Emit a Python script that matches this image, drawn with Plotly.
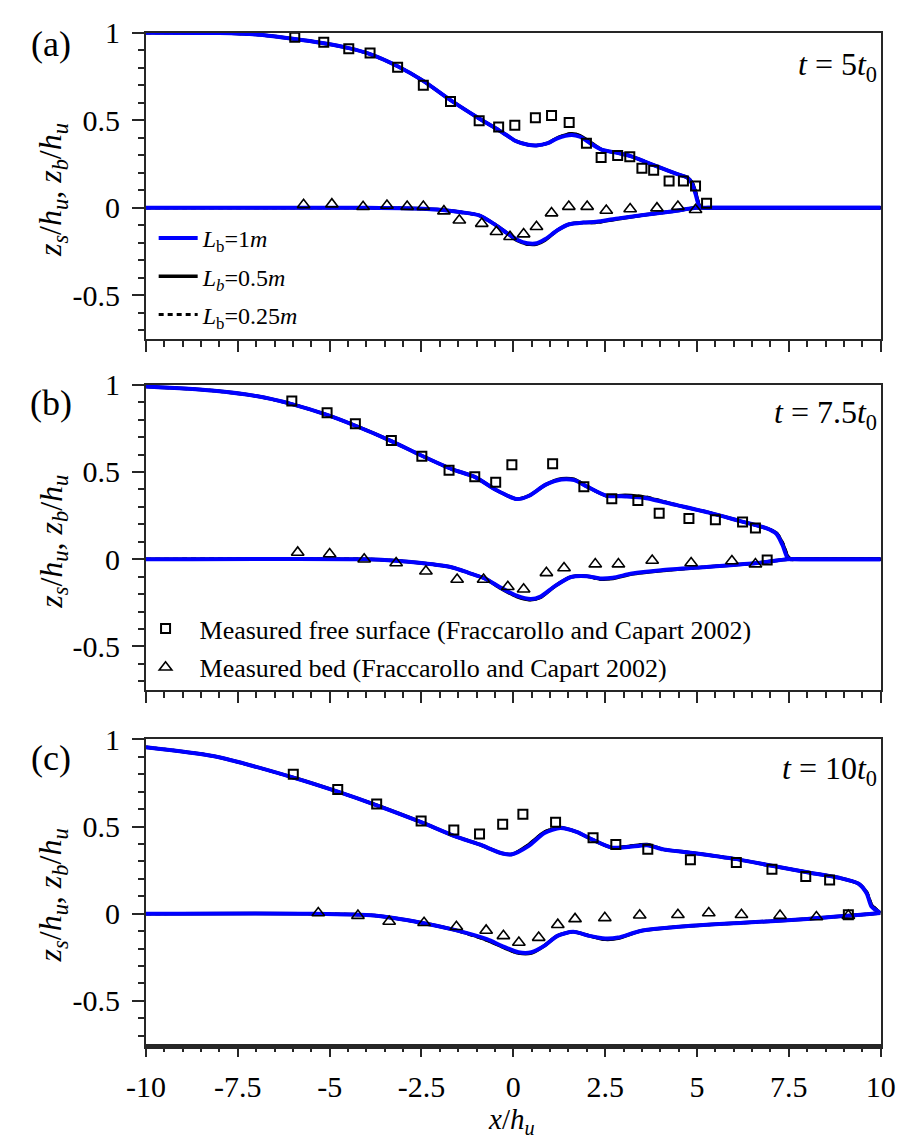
import plotly.graph_objects as go

FONT = "Liberation Serif, Times New Roman, serif"
BLUE = "#0000ff"
AXC = "#262626"

# axis ticks
x_ticks = [-10, -7.5, -5, -2.5, 0, 2.5, 5, 7.5, 10]
x_tick_text = ["-10", "-7.5", "-5", "-2.5", "0", "2.5", "5", "7.5", "10"]
y_ticks = [-0.5, 0, 0.5, 1]
y_tick_text = ["-0.5", "0", "0.5", "1"]

# ---------------- (a) t = 5 t0 ----------------
a_surf_x = [-10, -8, -7, -6, -5.16, -4.48, -3.9, -3.15, -2.45, -1.71, -0.93, -0.4, -0.15, 0.06, 0.4,
            0.63, 0.94, 1.2, 1.59, 1.81, 2.16, 2.42, 2.86, 3.21, 3.56, 4.0, 4.43, 4.74, 4.87, 4.96,
            5.05, 5.12, 5.3, 6.0, 10]
a_surf_1m = [1.0, 0.998, 0.99, 0.966, 0.94, 0.912, 0.878, 0.809, 0.725, 0.615, 0.51, 0.444, 0.41,
             0.382, 0.36, 0.356, 0.369, 0.397, 0.416, 0.406, 0.36, 0.331, 0.313, 0.294, 0.266,
             0.229, 0.195, 0.172, 0.135, 0.079, 0.013, 0.0, 0.0, 0.0, 0.0]
a_surf_05m = [1.0, 0.998, 0.99, 0.966, 0.94, 0.912, 0.878, 0.809, 0.725, 0.615, 0.51, 0.444, 0.41,
              0.382, 0.36, 0.356, 0.369, 0.400, 0.423, 0.413, 0.366, 0.331, 0.313, 0.294, 0.266,
              0.229, 0.195, 0.172, 0.142, 0.090, 0.020, 0.0, 0.0, 0.0, 0.0]
a_surf_025m = [1.0, 0.998, 0.99, 0.966, 0.94, 0.912, 0.878, 0.809, 0.725, 0.615, 0.51, 0.444, 0.41,
               0.382, 0.36, 0.356, 0.369, 0.401, 0.425, 0.411, 0.364, 0.331, 0.313, 0.294, 0.266,
               0.229, 0.195, 0.172, 0.145, 0.095, 0.025, 0.0, 0.0, 0.0, 0.0]
a_bed_x = [-10, -4, -3, -2.45, -1.8, -1.42, -0.93, -0.54, -0.16, 0.12, 0.38, 0.64, 0.86, 1.21, 1.52,
           1.91, 2.26, 2.79, 3.49, 4.36, 4.98, 5.5, 10]
a_bed_1m = [0, 0, -0.002, -0.006, -0.015, -0.025, -0.043, -0.09, -0.146, -0.184, -0.202, -0.202,
            -0.18, -0.127, -0.094, -0.084, -0.080, -0.062, -0.043, -0.019, 0.0, 0.0, 0.0]
a_bed_05m = [0, 0, -0.002, -0.006, -0.015, -0.025, -0.043, -0.09, -0.146, -0.188, -0.207, -0.207,
             -0.185, -0.127, -0.094, -0.084, -0.083, -0.065, -0.043, -0.019, 0.0, 0.0, 0.0]
a_bed_025m = [0, 0, -0.002, -0.006, -0.015, -0.025, -0.043, -0.09, -0.146, -0.184, -0.209, -0.205,
              -0.18, -0.127, -0.094, -0.084, -0.085, -0.064, -0.043, -0.019, 0.0, 0.0, 0.0]
a_fs_x = [-5.95, -5.16, -4.48, -3.90, -3.15, -2.45, -1.71, -0.93, -0.40, 0.04, 0.60, 1.04, 1.52,
          1.99, 2.39, 2.84, 3.17, 3.50, 3.82, 4.24, 4.63, 4.96, 5.26]
a_fs_y = [0.974, 0.946, 0.908, 0.884, 0.803, 0.700, 0.608, 0.498, 0.462, 0.472, 0.515, 0.528, 0.487,
          0.369, 0.288, 0.299, 0.292, 0.226, 0.215, 0.153, 0.153, 0.124, 0.026]
a_mb_x = [-5.71, -4.94, -4.09, -3.44, -2.89, -2.45, -1.89, -1.47, -0.86, -0.46, -0.09, 0.28, 0.63,
          1.04, 1.51, 2.01, 2.53, 3.18, 3.91, 4.48, 4.96]
a_mb_y = [0.017, 0.021, 0.006, 0.013, 0.007, 0.007, -0.019, -0.071, -0.09, -0.137, -0.165, -0.150,
          -0.108, -0.030, 0.007, 0.007, -0.015, -0.007, -0.002, 0.007, -0.011]

# ---------------- (b) t = 7.5 t0 ----------------
b_surf_x = [-10, -8.21, -7, -6.03, -5.07, -4.30, -3.32, -2.49, -1.66, -1.05, -0.48, 0.09, 0.43, 0.87,
            1.31, 1.66, 2.01, 2.53, 3.05, 3.58, 4.45, 5.33, 6.2, 6.9, 7.16, 7.33, 7.46, 7.55, 7.7,
            8.5, 10]
b_surf_1m = [0.99, 0.967, 0.935, 0.889, 0.827, 0.765, 0.677, 0.593, 0.515, 0.472, 0.398, 0.345,
             0.364, 0.426, 0.457, 0.453, 0.416, 0.364, 0.360, 0.351, 0.31, 0.267, 0.217, 0.177,
             0.146, 0.080, 0.01, 0.0, 0.0, 0.0, 0.0]
b_surf_05m = [0.99, 0.967, 0.935, 0.889, 0.827, 0.765, 0.677, 0.593, 0.515, 0.472, 0.398, 0.345,
              0.364, 0.426, 0.461, 0.457, 0.416, 0.364, 0.366, 0.356, 0.31, 0.267, 0.217, 0.177,
              0.150, 0.090, 0.02, 0.0, 0.0, 0.0, 0.0]
b_surf_025m = [0.99, 0.967, 0.935, 0.889, 0.827, 0.765, 0.677, 0.593, 0.515, 0.472, 0.398, 0.345,
               0.364, 0.426, 0.460, 0.458, 0.416, 0.364, 0.364, 0.358, 0.31, 0.267, 0.217, 0.177,
               0.152, 0.095, 0.025, 0.0, 0.0, 0.0, 0.0]
b_bed_x = [-10, -4, -3.2, -2.5, -1.66, -1.22, -0.78, -0.35, 0.09, 0.48, 0.74, 1.14, 1.57, 2.01, 2.36,
           2.71, 3.23, 4.02, 5.33, 6.64, 7.46, 8.0, 10]
b_bed_1m = [0, 0, -0.008, -0.022, -0.047, -0.078, -0.110, -0.162, -0.209, -0.228, -0.214, -0.153,
            -0.102, -0.097, -0.110, -0.106, -0.082, -0.063, -0.043, -0.022, 0.0, 0.0, 0.0]
b_bed_05m = [0, 0, -0.008, -0.022, -0.047, -0.078, -0.110, -0.166, -0.214, -0.232, -0.219, -0.153,
             -0.102, -0.097, -0.114, -0.110, -0.085, -0.066, -0.043, -0.022, 0.0, 0.0, 0.0]
b_bed_025m = [0, 0, -0.008, -0.022, -0.047, -0.078, -0.110, -0.162, -0.212, -0.233, -0.217, -0.153,
              -0.102, -0.097, -0.116, -0.108, -0.082, -0.065, -0.043, -0.022, 0.0, 0.0, 0.0]
b_fs_x = [-6.03, -5.07, -4.30, -3.32, -2.49, -1.75, -1.05, -0.48, -0.04, 1.07, 1.92, 2.68, 3.39,
          3.97, 4.78, 5.50, 6.24, 6.59, 6.91]
b_fs_y = [0.907, 0.840, 0.777, 0.681, 0.590, 0.510, 0.472, 0.441, 0.541, 0.547, 0.416, 0.347, 0.336,
          0.263, 0.233, 0.226, 0.214, 0.179, -0.004]
b_mb_x = [-5.87, -5.00, -4.06, -3.19, -2.38, -1.53, -0.81, -0.15, 0.28, 0.90, 1.38, 2.23, 2.86, 3.78,
          4.84, 5.95, 6.59]
b_mb_y = [0.039, 0.030, 0.0, -0.022, -0.069, -0.116, -0.116, -0.158, -0.172, -0.078, -0.050, -0.028,
          -0.028, -0.007, -0.022, -0.010, -0.028]

# ---------------- (c) t = 10 t0 ----------------
c_surf_x = [-10, -8.14, -5.99, -4.78, -3.72, -2.51, -1.6, -0.92, -0.29, -0.03, 0.41, 0.85, 1.28,
            1.72, 2.15, 2.68, 3.12, 3.64, 4.08, 4.82, 6.08, 7.04, 8.0, 8.87, 9.4, 9.62, 9.75, 9.99]
c_surf_1m = [0.955, 0.903, 0.781, 0.70, 0.622, 0.525, 0.445, 0.397, 0.345, 0.341, 0.388, 0.463,
             0.491, 0.469, 0.425, 0.379, 0.382, 0.393, 0.369, 0.350, 0.313, 0.275, 0.238, 0.206,
             0.172, 0.116, 0.041, 0.004]
c_surf_05m = [0.955, 0.903, 0.781, 0.70, 0.622, 0.525, 0.445, 0.397, 0.345, 0.341, 0.395, 0.468,
              0.495, 0.469, 0.425, 0.379, 0.386, 0.397, 0.369, 0.350, 0.313, 0.275, 0.238, 0.206,
              0.172, 0.120, 0.050, 0.004]
c_surf_025m = [0.955, 0.903, 0.781, 0.70, 0.622, 0.525, 0.445, 0.397, 0.345, 0.341, 0.393, 0.470,
               0.493, 0.469, 0.425, 0.379, 0.387, 0.396, 0.369, 0.350, 0.313, 0.275, 0.238, 0.206,
               0.172, 0.125, 0.055, 0.004]
c_bed_x = [-10, -5.5, -3.78, -2.51, -1.6, -0.72, -0.29, 0.14, 0.49, 0.85, 1.20, 1.63, 2.07, 2.50,
           2.85, 3.46, 4.51, 6.25, 8.0, 9.99]
c_bed_1m = [0, 0, -0.011, -0.052, -0.093, -0.146, -0.187, -0.221, -0.221, -0.183, -0.127, -0.104,
            -0.127, -0.142, -0.137, -0.099, -0.075, -0.052, -0.030, 0.004]
c_bed_05m = [0, 0, -0.011, -0.052, -0.093, -0.151, -0.192, -0.226, -0.226, -0.183, -0.127, -0.104,
             -0.127, -0.147, -0.141, -0.099, -0.075, -0.052, -0.030, 0.004]
c_bed_025m = [0, 0, -0.011, -0.052, -0.093, -0.153, -0.190, -0.227, -0.224, -0.183, -0.127, -0.104,
              -0.127, -0.148, -0.140, -0.099, -0.075, -0.052, -0.030, 0.004]
c_fs_x = [-5.99, -4.78, -3.72, -2.51, -1.62, -0.92, -0.29, 0.26, 1.15, 2.17, 2.79, 3.66, 4.82, 6.07,
          7.04, 7.96, 8.61, 9.12]
c_fs_y = [0.800, 0.712, 0.629, 0.532, 0.480, 0.457, 0.513, 0.571, 0.525, 0.435, 0.397, 0.369, 0.309,
          0.294, 0.255, 0.213, 0.193, -0.006]
c_mb_x = [-5.31, -4.23, -3.38, -2.43, -1.55, -0.74, -0.27, 0.15, 0.69, 1.21, 1.68, 2.49, 3.44, 4.48,
          5.32, 6.21, 7.26, 8.25, 9.12]
c_mb_y = [0.004, -0.011, -0.045, -0.052, -0.075, -0.096, -0.127, -0.165, -0.137, -0.063, -0.030,
          -0.024, -0.009, -0.006, 0.004, -0.006, -0.011, -0.019, -0.011]

panels = [
    dict(ax="", surf=(a_surf_x, a_surf_1m, a_surf_05m, a_surf_025m),
         bed=(a_bed_x, a_bed_1m, a_bed_05m, a_bed_025m),
         fs=(a_fs_x, a_fs_y), mb=(a_mb_x, a_mb_y)),
    dict(ax="2", surf=(b_surf_x, b_surf_1m, b_surf_05m, b_surf_025m),
         bed=(b_bed_x, b_bed_1m, b_bed_05m, b_bed_025m),
         fs=(b_fs_x, b_fs_y), mb=(b_mb_x, b_mb_y)),
    dict(ax="3", surf=(c_surf_x, c_surf_1m, c_surf_05m, c_surf_025m),
         bed=(c_bed_x, c_bed_1m, c_bed_05m, c_bed_025m),
         fs=(c_fs_x, c_fs_y), mb=(c_mb_x, c_mb_y)),
]

line_names = {
    "1m": "<i>L</i><sub>b</sub>=1<i>m</i>",
    "05m": "<i>L<sub>b</sub></i>=0.5<i>m</i>",
    "025m": "<i>L</i><sub>b</sub>=0.25<i>m</i>",
}

fig = go.Figure()

for i, p in enumerate(panels):
    xa, ya = "x" + p["ax"], "y" + p["ax"]
    first = i == 0
    for prof in ("surf", "bed"):
        xs, y1, y05, y025 = p[prof]
        show = first and prof == "surf"
        # fine-resolution runs drawn underneath, the 1 m run on top
        fig.add_trace(go.Scatter(x=xs, y=y025, mode="lines", xaxis=xa, yaxis=ya,
                                 line=dict(color="black", width=3, dash="5px,4px",
                                           shape="spline", smoothing=0.7),
                                 name=line_names["025m"], showlegend=show, legend="legend",
                                 legendgroup="g3", legendrank=3))
        fig.add_trace(go.Scatter(x=xs, y=y05, mode="lines", xaxis=xa, yaxis=ya,
                                 line=dict(color="black", width=3.5,
                                           shape="spline", smoothing=0.7),
                                 name=line_names["05m"], showlegend=show, legend="legend",
                                 legendgroup="g2", legendrank=2))
        fig.add_trace(go.Scatter(x=xs, y=y1, mode="lines", xaxis=xa, yaxis=ya,
                                 line=dict(color=BLUE, width=4, shape="spline", smoothing=0.7),
                                 name=line_names["1m"], showlegend=show, legend="legend",
                                 legendgroup="g1", legendrank=1))
    fig.add_trace(go.Scatter(x=p["fs"][0], y=p["fs"][1], mode="markers", xaxis=xa, yaxis=ya,
                             marker=dict(symbol="square-open", size=9, color="black",
                                         line=dict(width=2, color="black")),
                             name="Measured free surface (Fraccarollo and Capart 2002)",
                             showlegend=(i == 1), legend="legend2", legendgroup="m1",
                             legendrank=1))
    fig.add_trace(go.Scatter(x=p["mb"][0], y=p["mb"][1], mode="markers", xaxis=xa, yaxis=ya,
                             marker=dict(symbol="triangle-up-open", size=11, color="black",
                                         line=dict(width=1.6, color="black")),
                             name="Measured bed (Fraccarollo and Capart 2002)",
                             showlegend=(i == 1), legend="legend2", legendgroup="m2",
                             legendrank=2))

W, H = 913, 1140
x_dom = [131 / W, 895 / W]
y_doms = [[1 - 327 / H, 1 - 16 / H], [1 - 683.3 / H, 1 - 373.3 / H], [1 - 1043 / H, 1 - 733.3 / H]]

tick_font = dict(family=FONT, size=30, color="black")

layout = dict(
    width=W, height=H, margin=dict(l=0, r=0, t=0, b=0),
    paper_bgcolor="white", plot_bgcolor="white",
    font=dict(family=FONT, color="black"),
    legend=dict(x=139 / W, y=1 - 202 / H, xanchor="left", yanchor="top",
                font=dict(family=FONT, size=24, color="black"),
                bgcolor="rgba(0,0,0,0)", itemwidth=39, tracegroupgap=4),
    legend2=dict(x=116 / W, y=1 - 597 / H, xanchor="left", yanchor="top",
                 font=dict(family=FONT, size=26, color="black"),
                 bgcolor="rgba(0,0,0,0)", itemwidth=58, tracegroupgap=2),
)

for i in range(3):
    sfx = "" if i == 0 else str(i + 1)
    layout["xaxis" + sfx] = dict(
        domain=x_dom, anchor="y" + sfx, range=[-10, 10],
        tickmode="array", tickvals=x_ticks, ticktext=x_tick_text,
        showticklabels=(i == 2), tickfont=tick_font, ticklabelstandoff=4,
        ticks="outside", ticklen=11, tickwidth=2, tickcolor=AXC,
        minor=dict(dtick=0.5, tick0=0, ticks="outside", ticklen=6, tickwidth=2, tickcolor=AXC),
        showline=True, linecolor=AXC, linewidth=2, mirror=True,
        showgrid=False, zeroline=False, fixedrange=True,
    )
    layout["yaxis" + sfx] = dict(
        domain=y_doms[i], anchor="x" + sfx, range=[-0.75, 1],
        tickmode="array", tickvals=y_ticks, ticktext=y_tick_text, tickfont=tick_font,
        ticks="outside", ticklen=12, tickwidth=2, tickcolor=AXC, ticklabelstandoff=6,
        minor=dict(dtick=0.1, tick0=0, ticks="outside", ticklen=6, tickwidth=2, tickcolor=AXC),
        showline=True, linecolor=AXC, linewidth=2, mirror=True,
        showgrid=False, zeroline=False, fixedrange=True,
    )

# heavier baseline along the bottom of the last panel
layout["xaxis4"] = dict(
    domain=x_dom, anchor="y3", overlaying="x3", range=[-10, 10],
    showline=True, linecolor=AXC, linewidth=4.5, mirror=False, side="bottom",
    showticklabels=False, ticks="", showgrid=False, zeroline=False, fixedrange=True,
)
fig.add_trace(go.Scatter(x=[], y=[], xaxis="x4", yaxis="y3", showlegend=False,
                         hoverinfo="skip"))

fig.update_layout(**layout)

ytitle = ("<i>z</i><sub><i>s</i></sub>/<i>h</i><sub><i>u</i></sub>, "
          "<i>z</i><sub><i>b</i></sub>/<i>h</i><sub><i>u</i></sub>")
panel_tags = ["(a)", "(b)", "(c)"]
tag_y = [27, 392, 752]
title_y = [176, 533, 892]
time_text = ["<i>t</i> = 5<i>t</i><sub>0</sub>", "<i>t</i> = 7.5<i>t</i><sub>0</sub>",
             "<i>t</i> = 10<i>t</i><sub>0</sub>"]
time_y = [50, 404, 765]

for i in range(3):
    fig.add_annotation(text=panel_tags[i], x=32 / W, y=1 - tag_y[i] / H, xref="paper", yref="paper",
                       showarrow=False, xanchor="center", yanchor="middle",
                       font=dict(family=FONT, size=36, color="black"))
    fig.add_annotation(text=ytitle, x=34 / W, y=1 - title_y[i] / H, xref="paper", yref="paper",
                       showarrow=False, textangle=-90, xanchor="center", yanchor="middle",
                       font=dict(family=FONT, size=32, color="black"))
    fig.add_annotation(text=time_text[i], x=893 / W, y=1 - time_y[i] / H, xref="paper",
                       yref="paper", showarrow=False, xanchor="right", yanchor="middle",
                       font=dict(family=FONT, size=32, color="black"))

fig.add_annotation(text="<i>x</i>/<i>h</i><sub><i>u</i></sub>", x=511 / W, y=1 - 1121 / H,
                   xref="paper", yref="paper", showarrow=False, xanchor="center",
                   yanchor="middle", font=dict(family=FONT, size=29, color="black"))

fig.write_html("out.html")
